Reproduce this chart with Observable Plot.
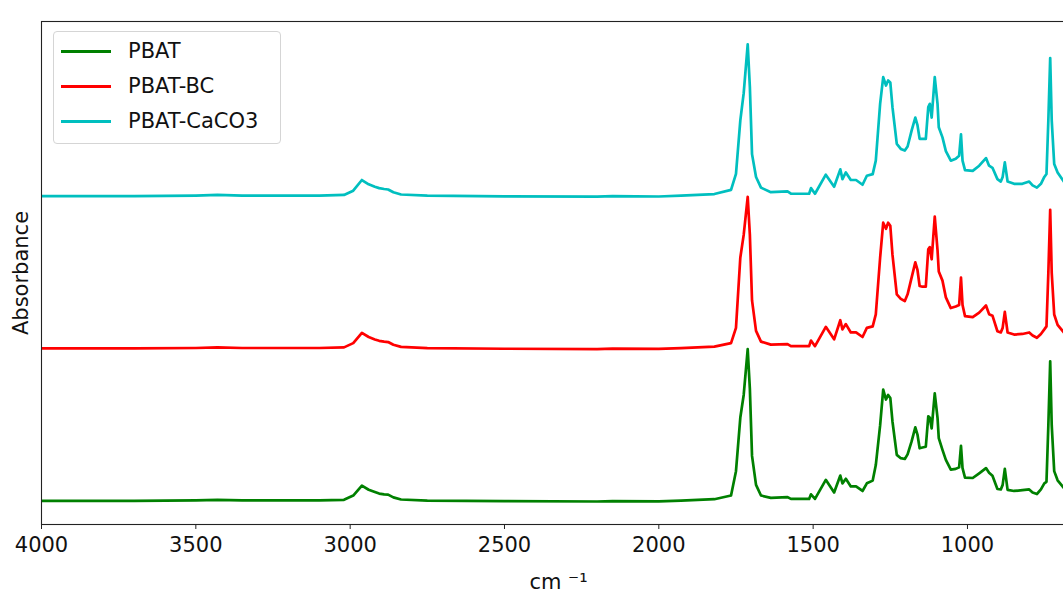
<!DOCTYPE html>
<html>
<head>
<meta charset="utf-8">
<script src="https://cdn.jsdelivr.net/npm/d3@7"></script>
<script src="https://cdn.jsdelivr.net/npm/@observablehq/plot@0.6"></script>
<style>
  html, body { margin: 0; padding: 0; background: #fff; overflow: hidden; }
  #wrap { position: relative; width: 1063px; height: 602px; overflow: hidden; }
  #legend {
    position: absolute; left: 53px; top: 31px; width: 226px; height: 111px;
    border: 1px solid #d5d5d5; border-radius: 4px; background: #fff;
    font-family: "DejaVu Sans", sans-serif; font-size: 21px; color: #111;
  }
  .entry { position: absolute; left: 0; height: 30px; }
  .swatch { position: absolute; left: 7px; width: 50px; height: 3px; }
  .lab { position: absolute; left: 74px; white-space: nowrap; line-height: 24px; }
</style>
</head>
<body>
<div id="wrap"><div id="chart"></div><div id="legend"></div></div>
<script>
const seriesNames = ["PBAT", "PBAT-BC", "PBAT-CaCO3"];
const seriesColors = ["#008000", "#ff0000", "#00bfbf"];
const seriesOffsets = [0, 1, 2];
const xTicks = [4000, 3500, 3000, 2500, 2000, 1500, 1000];

const wavenumbers = [4000, 3700, 3500, 3430, 3350, 3100, 3020, 2990, 2962, 2940, 2920, 2906, 2890, 2877, 2860, 2835, 2750, 2500, 2200, 2150, 2000, 1928, 1820, 1766, 1750, 1736, 1725, 1712, 1705, 1698, 1685, 1669, 1637, 1583, 1572, 1513, 1507, 1494, 1459, 1432, 1412, 1405, 1394, 1378, 1361, 1340, 1326, 1307, 1297, 1283, 1273, 1264, 1257, 1250, 1243, 1229, 1216, 1203, 1194, 1181, 1169, 1162, 1155, 1146, 1135, 1127, 1122, 1116, 1106, 1097, 1093, 1081, 1070, 1054, 1038, 1027, 1021, 1016, 1008, 983, 962, 940, 930, 919, 903, 892, 886, 879, 870, 849, 822, 800, 789, 775, 762, 751, 744, 738, 732, 727, 719, 708, 688, 670, 650];

const pbat = [0.005, 0.005, 0.008, 0.012, 0.008, 0.008, 0.012, 0.04, 0.105, 0.078, 0.063, 0.053, 0.048, 0.046, 0.028, 0.014, 0.007, 0.003, 0.001, 0.004, 0.002, 0.006, 0.016, 0.04, 0.2, 0.55, 0.7, 1.0, 0.74, 0.3, 0.11, 0.04, 0.025, 0.03, 0.018, 0.018, 0.048, 0.018, 0.143, 0.06, 0.171, 0.12, 0.15, 0.1, 0.1, 0.07, 0.12, 0.138, 0.24, 0.5, 0.735, 0.67, 0.7, 0.68, 0.526, 0.307, 0.285, 0.28, 0.31, 0.395, 0.487, 0.44, 0.35, 0.355, 0.36, 0.56, 0.55, 0.48, 0.71, 0.55, 0.417, 0.34, 0.274, 0.21, 0.215, 0.225, 0.366, 0.22, 0.158, 0.155, 0.186, 0.22, 0.19, 0.17, 0.083, 0.08, 0.11, 0.215, 0.077, 0.07, 0.075, 0.08, 0.06, 0.05, 0.08, 0.12, 0.13, 0.5, 0.92, 0.5, 0.2, 0.14, 0.09, 0.08, 0.07];

const pbatBC = [0.005, 0.005, 0.008, 0.012, 0.008, 0.008, 0.012, 0.04, 0.107, 0.08, 0.064, 0.055, 0.05, 0.047, 0.029, 0.015, 0.007, 0.003, 0.001, 0.004, 0.002, 0.007, 0.017, 0.04, 0.14, 0.6, 0.75, 1.0, 0.75, 0.32, 0.12, 0.05, 0.03, 0.033, 0.02, 0.02, 0.057, 0.02, 0.147, 0.065, 0.19, 0.13, 0.165, 0.11, 0.11, 0.08, 0.14, 0.15, 0.228, 0.6, 0.83, 0.79, 0.83, 0.81, 0.62, 0.36, 0.33, 0.316, 0.36, 0.47, 0.57, 0.52, 0.415, 0.41, 0.41, 0.656, 0.67, 0.59, 0.87, 0.65, 0.51, 0.45, 0.34, 0.27, 0.28, 0.29, 0.47, 0.29, 0.217, 0.21, 0.24, 0.287, 0.23, 0.22, 0.118, 0.11, 0.14, 0.245, 0.11, 0.096, 0.1, 0.11, 0.09, 0.075, 0.1, 0.13, 0.15, 0.5, 0.915, 0.5, 0.228, 0.16, 0.11, 0.09, 0.08];

const pbatCaCO3 = [0.005, 0.005, 0.008, 0.012, 0.008, 0.008, 0.012, 0.04, 0.11, 0.082, 0.066, 0.057, 0.051, 0.048, 0.03, 0.015, 0.007, 0.003, 0.001, 0.004, 0.002, 0.008, 0.018, 0.045, 0.15, 0.5, 0.68, 1.0, 0.72, 0.28, 0.13, 0.06, 0.03, 0.035, 0.02, 0.02, 0.057, 0.02, 0.145, 0.066, 0.18, 0.116, 0.16, 0.11, 0.11, 0.079, 0.138, 0.149, 0.237, 0.61, 0.785, 0.73, 0.763, 0.75, 0.588, 0.347, 0.314, 0.303, 0.33, 0.434, 0.52, 0.47, 0.38, 0.38, 0.38, 0.588, 0.61, 0.52, 0.785, 0.61, 0.456, 0.39, 0.3, 0.237, 0.25, 0.27, 0.41, 0.237, 0.175, 0.17, 0.204, 0.254, 0.204, 0.19, 0.116, 0.1, 0.13, 0.226, 0.1, 0.085, 0.085, 0.1, 0.075, 0.06, 0.085, 0.13, 0.15, 0.5, 0.91, 0.5, 0.215, 0.16, 0.1, 0.085, 0.075];

const seriesValues = [pbat, pbatBC, pbatCaCO3];

const rows = [];
seriesNames.forEach((name, i) => {
  wavenumbers.forEach((wn, j) => {
    rows.push({series: name, wn, y: seriesValues[i][j] + seriesOffsets[i]});
  });
});

const font = "'DejaVu Sans', sans-serif";
const chart = Plot.plot({
  width: 1075,
  height: 602,
  marginLeft: 41,
  marginRight: 0,
  marginTop: 21,
  marginBottom: 78,
  style: {maxWidth: "none", fontFamily: font, background: "#fff", color: "#111"},
  x: {domain: [4000, 650], label: null},
  y: {domain: [-0.15, 3.15], axis: null},
  color: {domain: seriesNames, range: seriesColors},
  marks: [
    Plot.line(rows, {x: "wn", y: "y", z: "series", stroke: "series", strokeWidth: 2.7, strokeLinejoin: "round", strokeLinecap: "butt"}),
    Plot.frame({stroke: "#222", strokeWidth: 1.1}),
    Plot.axisX({ticks: xTicks, tickFormat: d => String(d), tickSize: 5, tickPadding: 8, fontSize: 21, fontFamily: font, label: null, stroke: "#222"}),
    Plot.text(["Absorbance"], {frameAnchor: "left", textAnchor: "middle", dx: -20, rotate: -90, fontSize: 21, fontFamily: font, fill: "#111"}),
    Plot.text(["cm \u207B\u00B9"], {frameAnchor: "bottom", dy: 64, fontSize: 21, fontFamily: font, fill: "#111"})
  ]
});
document.getElementById("chart").appendChild(chart);

const legend = document.getElementById("legend");
seriesNames.forEach((name, i) => {
  const e = document.createElement("div");
  e.className = "entry";
  e.style.top = (7 + i * 35) + "px";
  e.style.width = "100%";
  const sw = document.createElement("div");
  sw.className = "swatch";
  sw.style.top = "11px";
  sw.style.background = seriesColors[i];
  const lb = document.createElement("div");
  lb.className = "lab";
  lb.textContent = name;
  e.appendChild(sw); e.appendChild(lb);
  legend.appendChild(e);
});
</script>
</body>
</html>
